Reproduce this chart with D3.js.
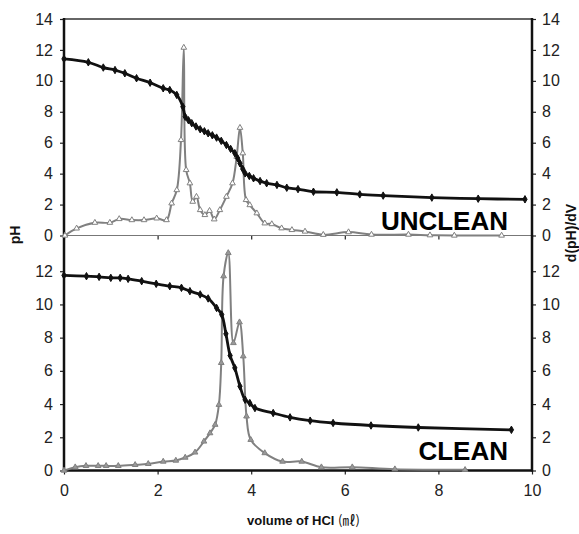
<!DOCTYPE html>
<html>
<head>
<meta charset="utf-8">
<script src="https://cdn.jsdelivr.net/npm/d3@7"></script>
<style>
  body { margin: 0; background: #fff; }
  svg { font-family: "Liberation Sans", Arial, sans-serif; }
  .axis text { font-size: 16px; fill: #222; }
  .axis line { stroke: #222; stroke-width: 1.2; }
  .label { font-weight: bold; font-size: 14px; fill: #111; }
  .tag { font-weight: bold; font-size: 26px; fill: #000; }
</style>
</head>
<body>
<svg class="plot"></svg>
<script>
const width = 579, height = 534;

// x-axis ticks and y-axis ticks
const xTicks = [0, 2, 4, 6, 8, 10];
const yTicksTop = [0, 2, 4, 6, 8, 10, 12, 14];
const yTicksBot = [0, 2, 4, 6, 8, 10, 12];

// UNCLEAN: pH vs volume
const uncleanVolPH = [0, 0.52, 0.84, 1.09, 1.30, 1.55, 1.84, 2.12, 2.26, 2.41, 2.54, 2.59, 2.66, 2.73, 2.82, 2.91, 3.0, 3.08, 3.17, 3.26, 3.36, 3.47, 3.56, 3.65, 3.71, 3.76, 3.82, 3.87, 3.96, 4.05, 4.19, 4.33, 4.55, 4.76, 5.0, 5.33, 5.83, 6.32, 6.82, 7.86, 8.85, 9.85];
const uncleanPH = [11.42, 11.2, 10.86, 10.7, 10.49, 10.17, 9.88, 9.52, 9.41, 9.09, 8.33, 7.68, 7.45, 7.26, 7.05, 6.87, 6.74, 6.61, 6.48, 6.33, 6.12, 5.85, 5.6, 5.32, 5.0, 4.67, 4.3, 4.02, 3.85, 3.70, 3.52, 3.38, 3.27, 3.09, 3.0, 2.83, 2.79, 2.66, 2.58, 2.45, 2.38, 2.34];

// UNCLEAN: d(pH)/dV vs volume
const uncleanVolD = [0.02, 0.27, 0.66, 0.98, 1.18, 1.45, 1.71, 1.98, 2.19, 2.30, 2.41, 2.50, 2.56, 2.61, 2.69, 2.75, 2.83, 2.91, 3.01, 3.11, 3.21, 3.33, 3.47, 3.60, 3.69, 3.76, 3.82, 3.89, 3.97, 4.12, 4.29, 4.44, 4.65, 4.87, 5.15, 5.54, 6.08, 6.57, 7.36, 7.82, 8.34, 9.35];
const uncleanD = [0, 0.46, 0.83, 0.83, 1.07, 1.0, 1.0, 1.11, 1.0, 2.08, 2.94, 6.18, 12.15, 4.24, 3.38, 2.19, 2.51, 1.65, 1.33, 1.6, 1.05, 1.65, 2.51, 3.38, 5.1, 6.97, 5.32, 2.30, 1.97, 1.44, 0.79, 0.74, 0.47, 0.36, 0.26, 0.05, 0.22, 0.06, 0.06, 0.02, 0.0, 0.0];

// CLEAN: pH vs volume
const cleanVolPH = [0, 0.48, 0.75, 1.0, 1.2, 1.37, 1.66, 1.97, 2.26, 2.51, 2.69, 2.91, 3.08, 3.26, 3.37, 3.46, 3.55, 3.65, 3.76, 3.87, 3.97, 4.08, 4.47, 4.83, 5.26, 5.75, 6.56, 7.57, 9.56];
const cleanPH = [11.75, 11.7, 11.66, 11.6, 11.6, 11.54, 11.4, 11.24, 11.1, 11.0, 10.8, 10.6, 10.36, 9.79, 9.39, 8.23, 6.92, 6.18, 5.07, 4.26, 4.06, 3.76, 3.46, 3.2, 3.0, 2.86, 2.71, 2.59, 2.45];

// CLEAN: d(pH)/dV vs volume
const cleanVolD = [0, 0.24, 0.47, 0.73, 0.90, 1.16, 1.52, 1.80, 2.12, 2.39, 2.59, 2.80, 2.99, 3.12, 3.23, 3.31, 3.36, 3.41, 3.51, 3.62, 3.75, 3.83, 3.90, 3.99, 4.29, 4.67, 5.08, 5.50, 6.16, 7.07, 8.57];
const cleanD = [0, 0.2, 0.28, 0.28, 0.28, 0.28, 0.34, 0.4, 0.54, 0.6, 0.78, 1.09, 1.75, 2.25, 2.76, 3.96, 6.48, 11.7, 13.1, 7.68, 8.93, 6.88, 3.26, 1.85, 1.05, 0.54, 0.54, 0.2, 0.2, 0.08, 0.04];

let x = d3.scaleLinear().domain([0, 10]).range([64, 532]);
let yTop = d3.scaleLinear().domain([0, 14]).range([235.5, 19]);
let yBot = d3.scaleLinear().domain([0, 14]).range([470.5, 238]);

let svg = d3.select(".plot")
            .attr("width", width)
            .attr("height", height);

function zip(xs, ys) {
  return xs.map((v, i) => [v, ys[i]]);
}

function drawSeries(yScale, xs, ys, color, lineWidth, symbol, symSize, fill) {
  let pts = zip(xs, ys);
  let line = d3.line()
               .x((d) => x(d[0]))
               .y((d) => yScale(d[1]))
               .curve(d3.curveCatmullRom.alpha(0.5));
  svg.append("path")
     .datum(pts)
     .attr("d", line)
     .attr("fill", "none")
     .attr("stroke", color)
     .attr("stroke-width", lineWidth)
     .attr("stroke-linejoin", "round");
  svg.append("g").selectAll("path")
     .data(pts)
     .enter().append("path")
     .attr("transform", (d) => "translate(" + x(d[0]) + "," + yScale(d[1]) + ")")
     .attr("d", d3.symbol().type(symbol).size(symSize))
     .attr("fill", fill)
     .attr("stroke", color)
     .attr("stroke-width", 1);
}

// left axes
svg.append("g").attr("class", "axis")
   .attr("transform", "translate(64,0)")
   .call(d3.axisLeft(yTop).tickValues(yTicksTop).tickSize(4).tickPadding(7))
   .call((g) => g.select(".domain").remove());
svg.append("g").attr("class", "axis")
   .attr("transform", "translate(64,0)")
   .call(d3.axisLeft(yBot).tickValues(yTicksBot).tickSize(4).tickPadding(7))
   .call((g) => g.select(".domain").remove());

// right axes
svg.append("g").attr("class", "axis")
   .attr("transform", "translate(532,0)")
   .call(d3.axisRight(yTop).tickValues(yTicksTop).tickSize(4).tickPadding(6))
   .call((g) => g.select(".domain").remove());
svg.append("g").attr("class", "axis")
   .attr("transform", "translate(532,0)")
   .call(d3.axisRight(yBot).tickValues(yTicksBot).tickSize(4).tickPadding(6))
   .call((g) => g.select(".domain").remove());

// x axis (bottom) and ticks under the separator
svg.append("g").attr("class", "axis")
   .attr("transform", "translate(0,470.5)")
   .call(d3.axisBottom(x).tickValues(xTicks).tickSize(4).tickPadding(10))
   .call((g) => g.select(".domain").remove());
svg.append("g").attr("class", "axis")
   .attr("transform", "translate(0,235.5)")
   .call(d3.axisBottom(x).tickValues(xTicks).tickSize(4).tickFormat(""))
   .call((g) => g.select(".domain").remove());

// frame
svg.append("line").attr("x1", 64).attr("x2", 532).attr("y1", 19).attr("y2", 19)
   .attr("stroke", "#333").attr("stroke-width", 1.5);
svg.append("line").attr("x1", 64).attr("x2", 532).attr("y1", 235.5).attr("y2", 235.5)
   .attr("stroke", "#777").attr("stroke-width", 1.2);
svg.append("line").attr("x1", 63).attr("x2", 533).attr("y1", 470.5).attr("y2", 470.5)
   .attr("stroke", "#111").attr("stroke-width", 2.5);
svg.append("line").attr("x1", 64).attr("x2", 64).attr("y1", 18).attr("y2", 471.5)
   .attr("stroke", "#111").attr("stroke-width", 2.5);
svg.append("line").attr("x1", 532).attr("x2", 532).attr("y1", 18).attr("y2", 471.5)
   .attr("stroke", "#111").attr("stroke-width", 2.5);

// series
drawSeries(yTop, uncleanVolD, uncleanD, "#808080", 2, d3.symbolTriangle, 14, "#fff");
drawSeries(yTop, uncleanVolPH, uncleanPH, "#111", 2.8, d3.symbolDiamond, 16, "#111");
drawSeries(yBot, cleanVolD, cleanD, "#808080", 2, d3.symbolTriangle, 14, "#999");
drawSeries(yBot, cleanVolPH, cleanPH, "#111", 2.8, d3.symbolDiamond, 16, "#111");

// panel tags
svg.append("text").attr("class", "tag")
   .attr("x", 508).attr("y", 230)
   .attr("text-anchor", "end")
   .text("UNCLEAN");
svg.append("text").attr("class", "tag")
   .attr("x", 508).attr("y", 460)
   .attr("text-anchor", "end")
   .text("CLEAN");

// axis labels
svg.append("text").attr("class", "label")
   .attr("transform", "translate(20,235) rotate(-90)")
   .attr("text-anchor", "middle")
   .text("pH");
svg.append("text").attr("class", "label")
   .attr("transform", "translate(576,233) rotate(-90)")
   .attr("text-anchor", "middle")
   .text("d(pH)/dV");

let xLabel = svg.append("text").attr("class", "label")
                .attr("x", 247).attr("y", 525)
                .style("font-size", "13px");
xLabel.append("tspan").text("volume of HCl ");
xLabel.append("tspan")
      .style("font-family", "'Noto Sans CJK KR', sans-serif")
      .style("font-weight", "normal")
      .text("(㎖)");
</script>
</body>
</html>
